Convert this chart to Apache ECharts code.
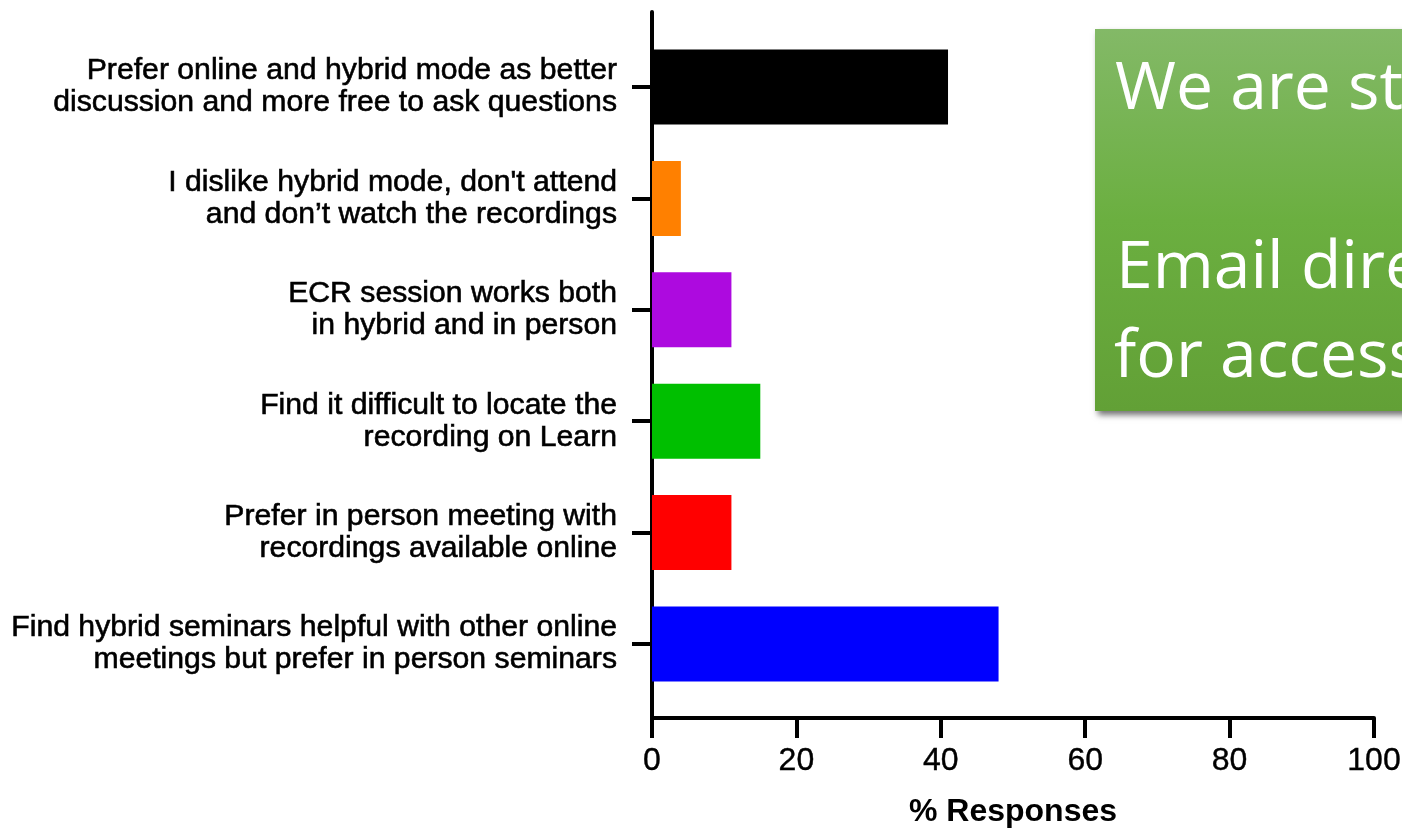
<!DOCTYPE html>
<html>
<head>
<meta charset="utf-8">
<script src="https://cdn.jsdelivr.net/npm/echarts@6/dist/echarts.min.js"></script>
<style>
html,body{margin:0;padding:0;background:#fff;}
#chart{width:1402px;height:829px;}
</style>
</head>
<body>
<div id="chart"></div>
<script>
const categories = [
  "Prefer online and hybrid mode as better\ndiscussion and more free to ask questions",
  "I dislike hybrid mode, don't attend\nand don\u2019t watch the recordings",
  "ECR session works both\nin hybrid and in person",
  "Find it difficult to locate the\nrecording on Learn",
  "Prefer in person meeting with\nrecordings available online",
  "Find hybrid seminars helpful with other online\nmeetings but prefer in person seminars"
];
const responses = [41, 4, 11, 15, 11, 48];
const barColors = ["#000000", "#FF8000", "#AD0ADF", "#00BF00", "#FF0000", "#0000FF"];
const xTicks = [0, 20, 40, 60, 80, 100];
const boxLines = ["We are st", "Email dire", "for access"];

const chart = echarts.init(document.getElementById('chart'));
const FONT = "'Liberation Sans', Arial, sans-serif";

chart.setOption({
  animation: false,
  backgroundColor: '#ffffff',
  grid: [
    { left: 652, right: 28, top: 31.3, bottom: 129.3, outerBoundsMode: 'none', containLabel: false },
    { left: 652, right: 28, top: 12, bottom: 111, outerBoundsMode: 'none', containLabel: false }
  ],
  xAxis: [
    { gridIndex: 0, type: 'value', min: xTicks[0], max: xTicks[xTicks.length - 1], show: false },
    {
      gridIndex: 1, type: 'value', min: xTicks[0], max: xTicks[xTicks.length - 1], interval: 20,
      axisLine: { show: true, lineStyle: { color: '#000', width: 4 } },
      axisTick: { show: true, length: 20, lineStyle: { color: '#000', width: 4 } },
      axisLabel: { color: '#000', fontSize: 32, fontFamily: FONT, margin: 27, textBorderColor: '#000', textBorderWidth: 0.4 },
      splitLine: { show: false },
      name: '% Responses', nameLocation: 'middle', nameGap: 78,
      nameTextStyle: { color: '#000', fontSize: 32, fontWeight: 'bold', fontFamily: FONT }
    }
  ],
  yAxis: [
    {
      gridIndex: 0, type: 'category', data: categories, inverse: true,
      axisLine: { show: false },
      axisTick: { show: true, alignWithLabel: true, length: 20, lineStyle: { color: '#000', width: 4 } },
      axisLabel: { color: '#000', fontSize: 30.2, fontFamily: FONT, lineHeight: 32, margin: 35, align: 'right',
                   textBorderColor: '#000', textBorderWidth: 0.6 },
      splitLine: { show: false }
    },
    {
      gridIndex: 1, type: 'value', min: 0, max: 1,
      axisLine: { show: true, lineStyle: { color: '#000', width: 4 } },
      axisTick: { show: false }, axisLabel: { show: false }, splitLine: { show: false }
    }
  ],
  series: [{
    type: 'bar',
    xAxisIndex: 0, yAxisIndex: 0,
    barWidth: 75,
    data: responses.map((v, i) => ({ value: v, itemStyle: { color: barColors[i] } }))
  }],
  graphic: [
    {
      type: 'rect', z: 100,
      shape: { x: 1095, y: 29, width: 400, height: 382 },
      style: {
        fill: new echarts.graphic.LinearGradient(0, 0, 0, 1, [
          { offset: 0, color: '#83B967' },
          { offset: 0.5, color: '#6BAF40' },
          { offset: 1, color: '#62A036' }
        ]),
        shadowBlur: 6, shadowOffsetX: 3, shadowOffsetY: 4, shadowColor: 'rgba(0,0,0,0.55)'
      }
    },
    { type: 'text', z: 101, x: 1115, y: 57, style: { text: boxLines[0], fill: '#fff', font: "66px 'Open Sans', sans-serif" } },
    { type: 'text', z: 101, x: 1116, y: 236, style: { text: boxLines[1], fill: '#fff', font: "66px 'Open Sans', sans-serif" } },
    { type: 'text', z: 101, x: 1114, y: 325, style: { text: boxLines[2], fill: '#fff', font: "66px 'Open Sans', sans-serif" } }
  ]
});
</script>
</body>
</html>
